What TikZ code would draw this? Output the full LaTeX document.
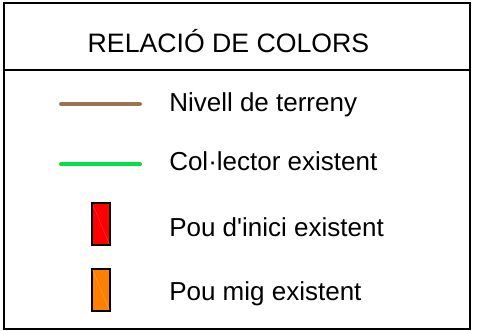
\documentclass[tikz,border=0pt]{standalone}
\usepackage{fontspec}
\setmainfont{Liberation Sans}
\definecolor{terreny}{HTML}{9C7650}
\definecolor{colector}{HTML}{00E040}
\definecolor{pouinici}{HTML}{FF0000}
\definecolor{poumig}{HTML}{FF8000}
\begin{document}
\begin{tikzpicture}[x=0.75pt,y=-0.75pt,
  frame/.style={draw=black,line width=1.5pt},
  label/.style={anchor=base west,inner sep=0pt,font=\fontsize{19.5}{23}\selectfont},
  legline/.style={line width=3pt,line cap=round},
  pou/.style={draw=black,line width=1.5pt,minimum width=18.6*0.75pt,minimum height=41.7*0.75pt,inner sep=0pt}]
\useasboundingbox (0,0) rectangle (477,331);
\draw[frame] (3.5,3) rectangle (470,328.5);
\draw[frame] (3.5,70) -- (470,70);
\node[anchor=base,inner sep=0pt,font=\fontsize{20}{24}\selectfont] (title) at (228.5,53) {RELACIÓ DE COLORS};
% brown line
\coordinate (t1) at (61,104);
\coordinate (t2) at (140,104);
\draw[legline,terreny] (t1) -- (t2);
\node[label] (lt) at (169,112) {Nivell de terreny};
% green line
\coordinate (c1) at (61,164.5);
\coordinate (c2) at (140,164.5);
\draw[legline,colector] (c1) -- (c2);
\node[label] (lc) at (169,171) {Col·lector existent};
% red rect
\node[pou,fill=pouinici] (pi) at (101,224.2) {};
\draw[pouinici!75!white,line width=0.3pt] ([shift={(2,2)}]pi.north west) -- ([shift={(-2,-2)}]pi.south east);
\node[label] (lpi) at (169,236) {Pou d\textquotesingle inici existent};
% orange rect
\node[pou,fill=poumig] (pm) at (101,290) {};
\draw[poumig!70!white,line width=0.3pt] ([shift={(2,2)}]pm.north west) -- ([shift={(-2,-2)}]pm.south east);
\node[label] (lpm) at (169,300) {Pou mig existent};
\end{tikzpicture}
\end{document}
